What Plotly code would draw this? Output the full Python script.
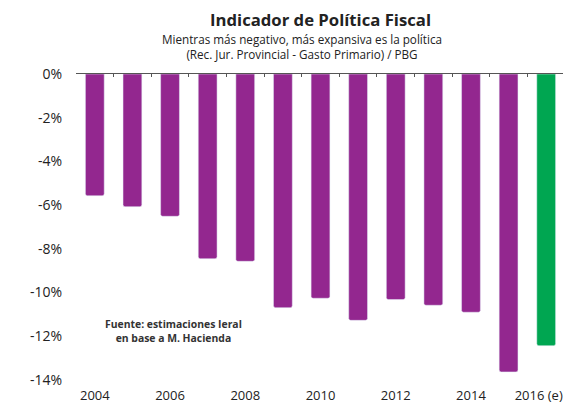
import plotly.graph_objects as go

years = list(range(2004, 2017))
values = [-5.57, -6.07, -6.51, -8.45, -8.57, -10.69, -10.26, -11.27, -10.32, -10.58, -10.90, -13.63, -12.43]
bar_colors = ["#93278F"] * 12 + ["#00A651"]
tick_years = [2004, 2006, 2008, 2010, 2012, 2014, 2016]
tick_labels = ["2004", "2006", "2008", "2010", "2012", "2014", "2016 (e)"]
y_ticks = [0, -2, -4, -6, -8, -10, -12, -14]
y_labels = [f"{v}%" for v in y_ticks]

title = "Indicador de Política Fiscal"
subtitle = "Mientras más negativo, más expansiva es la política<br>(Rec. Jur. Provincial - Gasto Primario) / PBG"
source = "Fuente: estimaciones Ieral<br>en base a M. Hacienda"

# category boundaries for the small ticks on the zero line
bounds = [y - 0.5 for y in years] + [years[-1] + 0.5]
# last label is wide, nudge it left so it stays inside the page
tick_pos = tick_years[:-1] + [tick_years[-1] - 0.2]

fig = go.Figure()
fig.add_trace(go.Bar(x=years, y=values, marker_color=bar_colors, width=0.5))
# invisible helper so the top axis (zero line with ticks) is drawn
fig.add_trace(go.Scatter(x=[years[0]], y=[0], xaxis="x2", mode="markers",
                         marker=dict(opacity=0), hoverinfo="skip"))

# page body has an 8px margin, so the figure is 8px smaller than the window
fig.update_layout(
    width=563, height=396,
    margin=dict(l=68, r=6, t=66, b=24),
    paper_bgcolor="white", plot_bgcolor="white",
    font=dict(family="Open Sans", color="#222222"),
    showlegend=False,
    barcornerradius=2,
    xaxis=dict(range=[2003.5, 2016.5], tickvals=tick_pos, ticktext=tick_labels,
               showgrid=False, zeroline=False, showline=False, automargin=False,
               ticks="outside", ticklen=3, tickcolor="white",
               tickfont=dict(size=13, color="#222222")),
    xaxis2=dict(overlaying="x", side="top", range=[2003.5, 2016.5],
                tickvals=bounds, showticklabels=False, ticks="inside", ticklen=3,
                tickcolor="#555555", showline=True, linecolor="#555555", linewidth=1.3,
                showgrid=False, zeroline=False, automargin=False),
    yaxis=dict(range=[-14, 0], tickvals=y_ticks, ticktext=y_labels,
               showgrid=False, zeroline=False, showline=False, automargin=False,
               ticks="outside", ticklen=10, tickcolor="white",
               tickfont=dict(size=14, color="#222222")),
)

fig.add_annotation(
    text=f"<b>{title}</b>",
    xref="paper", yref="paper", x=0.499, y=1.0, yshift=54.5, xanchor="center", yanchor="middle",
    showarrow=False, font=dict(size=16.7, color="#222222"),
)
fig.add_annotation(
    text=subtitle,
    xref="paper", yref="paper", x=0.462, y=1.0, yshift=28, xanchor="center", yanchor="middle",
    showarrow=False, font=dict(size=11.7, color="#222222"), align="center",
)
fig.add_annotation(
    text=f"<b>{source}</b>",
    xref="x", yref="y", x=2006.1, y=-11.76, xanchor="center", yanchor="middle",
    showarrow=False, font=dict(size=10.4, color="#333333"), align="center",
)

fig.write_html("out.html")
